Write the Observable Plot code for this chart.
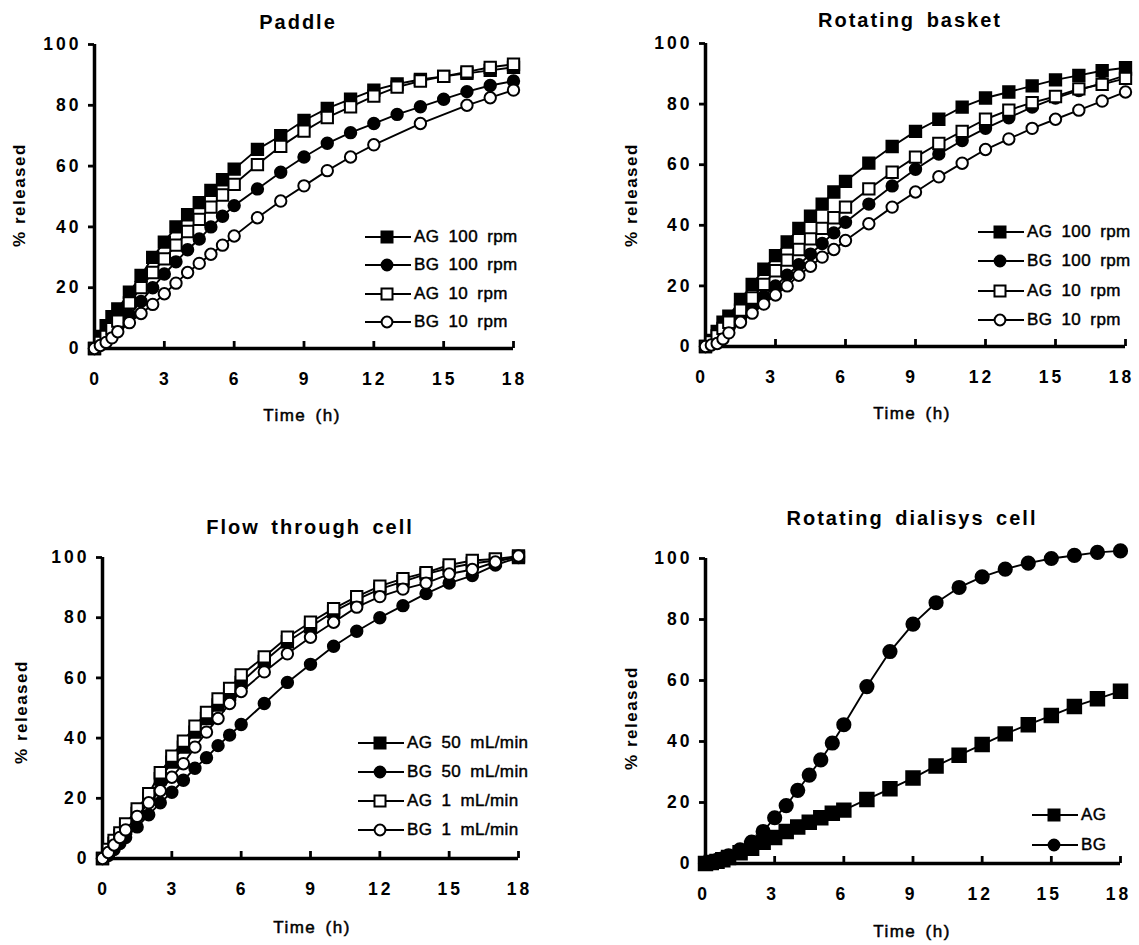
<!DOCTYPE html>
<html>
<head>
<meta charset="utf-8">
<script src="https://cdn.jsdelivr.net/npm/d3@7"></script>
<script src="https://cdn.jsdelivr.net/npm/@observablehq/plot@0.6"></script>
<style>
  html, body { margin: 0; padding: 0; background: #fff; }
  #root { position: relative; width: 1139px; height: 945px; overflow: hidden; font-family: "Liberation Sans", Arial, Helvetica, sans-serif; color: #000; }
  .abs { position: absolute; }
  .title { font-weight: bold; font-size: 20px; letter-spacing: 2px; word-spacing: 4px; white-space: nowrap; transform: translate(-50%, -50%); }
  .xlab { font-size: 17px; letter-spacing: 1.5px; word-spacing: 3px; -webkit-text-stroke: 0.5px #000; white-space: nowrap; transform: translate(-50%, -50%); }
  .ylab { font-size: 17px; font-weight: bold; letter-spacing: 1.5px; white-space: nowrap; transform: translate(-50%, -50%) rotate(-90deg); }
  .leg { display: flex; align-items: center; height: 20px; white-space: nowrap; font-size: 17px; letter-spacing: 0.4px; word-spacing: 4px; -webkit-text-stroke: 0.45px #000; }
  .leg svg { display: block; margin-right: 3px; }
</style>
</head>
<body>
<div id="root"></div>
<script>
// ---------- data ----------
const xTicks = [0, 3, 6, 9, 12, 15, 18];
const yTicks = [0, 20, 40, 60, 80, 100];
const tFull = [0, 0.25, 0.5, 0.75, 1, 1.5, 2, 2.5, 3, 3.5, 4, 4.5, 5, 5.5, 6, 7, 8, 9, 10, 11, 12, 13, 14, 15, 16, 17, 18];
const tPaddleBG10 = [0, 0.25, 0.5, 0.75, 1, 1.5, 2, 2.5, 3, 3.5, 4, 4.5, 5, 5.5, 6, 7, 8, 9, 10, 11, 12, 14, 16, 17, 18];

const panelTitles = ["Paddle", "Rotating basket", "Flow through cell", "Rotating dialisys cell"];
const yLabel = "% released";
const xLabel = "Time (h)";

// Paddle
const paddleNames = ["AG 100 rpm", "BG 100 rpm", "AG 10 rpm", "BG 10 rpm"];
const paddleAG100 = [0, 4, 7.5, 10.5, 13, 18.5, 24, 30, 35, 40, 44, 48, 52, 55.5, 59, 65.5, 70, 75, 79, 82, 85, 87, 88.5, 89.5, 90.5, 91.5, 92.5];
const paddleBG100 = [0, 1.5, 3, 5, 7, 11, 15.5, 20, 24.5, 28.5, 32.5, 36, 40, 43.5, 47, 52.5, 58, 63, 67.5, 71, 74, 77, 79.5, 82, 84.5, 86.5, 88];
const paddleAG10 = [0, 2, 4, 6.5, 9, 15, 20, 25, 29.5, 34, 38.5, 42.5, 46.5, 50.5, 54, 60.5, 66.5, 71.5, 76, 79.5, 83, 86, 88, 89.5, 91, 92.5, 93.5];
const paddleBG10 = [0, 1, 2, 3.5, 5.5, 8.5, 11.5, 14.5, 18, 21.5, 25, 28, 31, 34, 37, 43, 48.5, 53.5, 58.5, 63, 67, 74, 80, 82.5, 85];

// Rotating basket
const basketNames = ["AG 100 rpm", "BG 100 rpm", "AG 10 rpm", "BG 10 rpm"];
const basketAG100 = [0, 2, 5, 8, 10, 15.5, 20.5, 25.5, 30, 34.5, 39, 43, 47, 51, 54.5, 60.5, 66, 71, 75, 79, 82, 84, 86, 88, 89.5, 91, 92];
const basketBG100 = [0, 1, 2.5, 4.5, 6, 9.5, 13, 16.5, 20, 23.5, 27, 30.5, 34, 37.5, 41, 47, 53, 58.5, 63.5, 68, 72, 75.5, 79, 82, 84.5, 87, 89.5];
const basketAG10 = [0, 1.5, 3.5, 6, 8, 12, 16, 20.5, 25, 28.5, 32, 35.5, 39, 42.5, 46, 52, 57.5, 62.5, 67, 71, 75, 78, 80.5, 82.5, 85, 86.5, 88.5];
const basketBG10 = [0, 0.5, 1, 2.5, 4.5, 8, 11, 14, 17, 20, 23.5, 26.5, 29.5, 32, 35, 40.5, 46, 51, 56, 60.5, 65, 68.5, 72, 75, 78, 81, 84];

// Flow through cell
const flowNames = ["AG 50 mL/min", "BG 50 mL/min", "AG 1 mL/min", "BG 1 mL/min"];
const flowAG50 = [0, 2.5, 5, 7.5, 10, 15, 20, 26.5, 32, 37, 42, 46.5, 51, 54.5, 58.5, 65.5, 72, 77, 82, 86, 89.5, 92, 94.5, 96.5, 98, 99, 100];
const flowBG50 = [0, 1, 3, 5, 7, 10.5, 14.5, 18.5, 22, 26, 30, 33.5, 37.5, 41, 44.5, 51.5, 58.5, 64.5, 70.5, 75.5, 80, 84, 88, 91.5, 94, 97.5, 100];
const flowAG1 = [0, 3, 6, 8.5, 11.5, 16.5, 21.5, 28.5, 34, 39, 44, 48.5, 53, 56.5, 61, 67, 73.5, 78.5, 83, 87, 90.5, 93, 95, 97.5, 99, 99.5, 100.5];
const flowBG1 = [0, 2, 4.5, 7, 9.5, 14, 18.5, 22.5, 27, 31.5, 37, 42, 46.5, 51.5, 55.5, 62, 68, 73.5, 78.5, 83.5, 87, 89.5, 91.5, 94.5, 96, 98.5, 100.5];

// Rotating dialysis cell
const dialNames = ["AG", "BG"];
const dialAG = [0, 0.3, 0.7, 1.2, 2, 3.5, 5, 7, 8.5, 10.5, 12, 13.5, 15, 16.5, 17.5, 21, 24.5, 28, 32, 35.5, 39, 42.5, 45.5, 48.5, 51.5, 54, 56.5];
const dialBG = [0, 0.5, 1, 1.5, 2.5, 4.5, 7, 10.5, 15, 19, 24, 29, 34, 39.5, 45.5, 58, 69.5, 78.5, 85.5, 90.5, 94, 96.5, 98.5, 100, 101, 102, 102.5];

// marker styles: [symbol, filled]
const markerStyles = [["square", true], ["circle", true], ["square", false], ["circle", false]];

// ---------- layout ----------
const root = document.getElementById("root");
const zip = (t, v) => t.map((x, i) => ({x, y: v[i]}));

const panels = [
  {title: panelTitles[0], left: 0, top: 0, width: 535, height: 400, ml: 94, mr: 22, mt: 44, bottomAxis: 348, big: false, xdx: 1,
   series: [zip(tFull, paddleAG100), zip(tFull, paddleBG100), zip(tFull, paddleAG10), zip(tPaddleBG10, paddleBG10)],
   names: paddleNames, styles: markerStyles,
   titlePos: [298, 22], xlabPos: [302, 416], ylabPos: [20, 195], legend: {x: 365, y: 237, dy: 28.3}},
  {title: panelTitles[1], left: 620, top: 0, width: 519, height: 398, ml: 85, mr: 14, mt: 43, bottomAxis: 346, big: false, xdx: -4,
   series: [zip(tFull, basketAG100), zip(tFull, basketBG100), zip(tFull, basketAG10), zip(tFull, basketBG10)],
   names: basketNames, styles: markerStyles,
   titlePos: [910, 20], xlabPos: [912, 414], ylabPos: [632, 195], legend: {x: 978, y: 232, dy: 29.3}},
  {title: panelTitles[2], left: 0, top: 500, width: 540, height: 410, ml: 102, mr: 22, mt: 57, bottomAxis: 858, big: false, xdx: 1,
   series: [zip(tFull, flowAG50), zip(tFull, flowBG50), zip(tFull, flowAG1), zip(tFull, flowBG1)],
   names: flowNames, styles: markerStyles,
   titlePos: [310, 527], xlabPos: [312, 928], ylabPos: [22, 712], legend: {x: 358, y: 743, dy: 29}},
  {title: panelTitles[3], left: 620, top: 500, width: 519, height: 415, ml: 85, mr: 19, mt: 58, bottomAxis: 863, big: true, xdx: -2,
   series: [zip(tFull, dialAG), zip(tFull, dialBG)],
   names: dialNames, styles: markerStyles.slice(0, 2),
   titlePos: [912, 518], xlabPos: [912, 932], ylabPos: [632, 718], legend: {x: 1032, y: 815, dy: 30}}
];

function markerOpts(style, big) {
  const [symbol, filled] = style;
  const r = symbol === "square" ? (big ? 7.6 : 6.4) : (big ? 6.6 : 5.7);
  return {symbol, r, fill: filled ? "black" : "white", stroke: "black", strokeWidth: 2};
}

for (const p of panels) {
  const mb = p.top + p.height - p.bottomAxis;
  const frameH = p.bottomAxis - (p.top + p.mt);
  const marks = [
    Plot.ruleY([0], {stroke: "black", strokeWidth: 3.5}),
    Plot.ruleX([0], {stroke: "black", strokeWidth: 3.5}),
    Plot.axisY(yTicks, {tickSize: 6, tickPadding: 7, strokeWidth: 2.8, fontSize: 17.5, fontWeight: "bold", label: null}),
    Plot.axisX(xTicks, {tickSize: 0, tickPadding: 24, fontSize: 17.5, fontWeight: "bold", label: null, dx: p.xdx}),
    Plot.tickX(xTicks.slice(1), {x: d => d, stroke: "black", strokeWidth: 2.8, insetTop: frameH - 7})
  ];
  p.series.forEach((s, i) => {
    marks.push(Plot.line(s, {x: "x", y: "y", stroke: "black", strokeWidth: 1.9}));
    marks.push(Plot.dot(s, {x: "x", y: "y", ...markerOpts(p.styles[i], p.big)}));
  });
  const chart = Plot.plot({
    width: p.width, height: p.height,
    marginLeft: p.ml, marginRight: p.mr, marginTop: p.mt, marginBottom: mb,
    x: {domain: [0, 18], axis: null},
    y: {domain: [0, 100], axis: null},
    style: {background: "transparent", fontFamily: "'Liberation Sans', Arial, Helvetica, sans-serif", color: "black", letterSpacing: "3px", overflow: "visible"},
    marks
  });
  chart.classList.add("abs");
  chart.style.left = p.left + "px";
  chart.style.top = p.top + "px";
  root.appendChild(chart);

  const t = document.createElement("div");
  t.className = "abs title"; t.textContent = p.title;
  t.style.left = p.titlePos[0] + "px"; t.style.top = p.titlePos[1] + "px";
  root.appendChild(t);

  const xl = document.createElement("div");
  xl.className = "abs xlab"; xl.textContent = xLabel;
  xl.style.left = p.xlabPos[0] + "px"; xl.style.top = p.xlabPos[1] + "px";
  root.appendChild(xl);

  const yl = document.createElement("div");
  yl.className = "abs ylab"; yl.textContent = yLabel;
  yl.style.left = p.ylabPos[0] + "px"; yl.style.top = p.ylabPos[1] + "px";
  root.appendChild(yl);

  p.names.forEach((name, i) => {
    const row = document.createElement("div");
    row.className = "abs leg";
    row.style.left = p.legend.x + "px";
    row.style.top = (p.legend.y + i * p.legend.dy - 10) + "px";
    const [symbol, filled] = p.styles[i];
    const fill = filled ? "black" : "white";
    const shape = symbol === "square"
      ? `<rect x="16.5" y="4.5" width="11" height="11" fill="${fill}" stroke="black" stroke-width="2"/>`
      : `<circle cx="22" cy="10" r="5.4" fill="${fill}" stroke="black" stroke-width="2"/>`;
    row.innerHTML = `<svg width="46" height="20"><line x1="0" x2="46" y1="10" y2="10" stroke="black" stroke-width="1.8"/>${shape}</svg><span>${name}</span>`;
    root.appendChild(row);
  });
}
</script>
</body>
</html>
